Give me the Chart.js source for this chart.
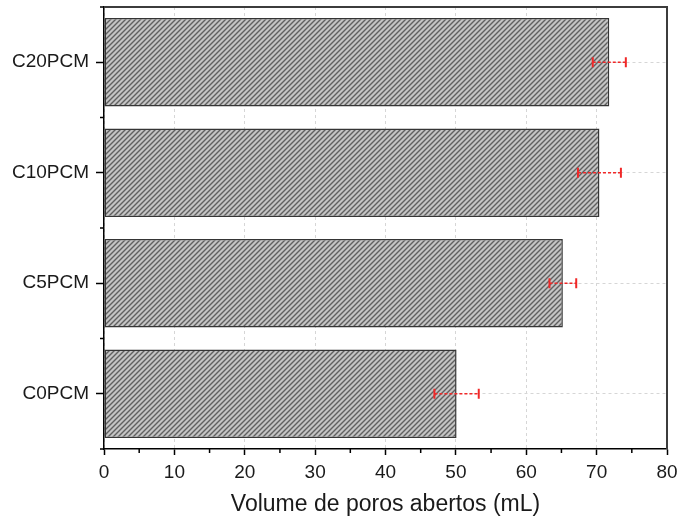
<!DOCTYPE html>
<html>
<head>
<meta charset="utf-8">
<script src="https://cdn.jsdelivr.net/npm/chart.js@4/dist/chart.umd.min.js"></script>
<style>
  html, body { margin: 0; padding: 0; background: #ffffff; }
  #c { display: block; }
</style>
</head>
<body>
<canvas id="c" width="678" height="519"></canvas>
<script>
// ---- data ----
const categories = ['C0PCM', 'C5PCM', 'C10PCM', 'C20PCM'];
const volumes = [50.1, 65.2, 70.4, 71.8];
const errors = [3.15, 1.9, 3.05, 2.35];
const xTicks = [0, 10, 20, 30, 40, 50, 60, 70, 80];
const xTitle = 'Volume de poros abertos (mL)';

// ---- hatch pattern ----
function makeHatch() {
  const s = 5;
  const cv = document.createElement('canvas');
  cv.width = s; cv.height = s;
  const g = cv.getContext('2d');
  g.fillStyle = '#c4c4c4';
  g.fillRect(0, 0, s, s);
  g.strokeStyle = '#606060';
  g.lineWidth = 1.4;
  g.beginPath();
  g.moveTo(-1, 1); g.lineTo(1, -1);
  g.moveTo(0, s); g.lineTo(s, 0);
  g.moveTo(s - 1, s + 1); g.lineTo(s + 1, s - 1);
  g.stroke();
  return g.createPattern(cv, 'repeat');
}
const ctx = document.getElementById('c').getContext('2d');
const hatch = makeHatch();

const extras = {
  id: 'extras',
  afterDraw(chart) {
    const c = chart.ctx;
    const xs = chart.scales.x, ys = chart.scales.y;
    const a = chart.chartArea;
    c.save();
    // frame top & right
    c.strokeStyle = '#3c3c3c';
    c.lineWidth = 2;
    c.beginPath();
    c.moveTo(a.left, a.top);
    c.lineTo(a.right, a.top);
    c.lineTo(a.right, a.bottom);
    c.stroke();
    // minor ticks x
    c.strokeStyle = '#000';
    c.lineWidth = 1.5;
    c.beginPath();
    for (let i = 0; i < xTicks.length - 1; i++) {
      const px = xs.getPixelForValue((xTicks[i] + xTicks[i + 1]) / 2);
      c.moveTo(px, a.bottom);
      c.lineTo(px, a.bottom + 4);
    }
    // minor ticks y (category boundaries)
    for (let i = 0; i <= categories.length; i++) {
      const py = ys.getPixelForValue(i - 0.5);
      c.moveTo(a.left, py);
      c.lineTo(a.left - 4, py);
    }
    c.stroke();
    // error bars
    c.strokeStyle = '#f02828';
    for (let i = 0; i < categories.length; i++) {
      const py = ys.getPixelForValue(i);
      const x1 = xs.getPixelForValue(volumes[i] - errors[i]);
      const x2 = xs.getPixelForValue(volumes[i] + errors[i]);
      c.lineWidth = 1.6;
      c.setLineDash([3, 2]);
      c.beginPath();
      c.moveTo(x1, py); c.lineTo(x2, py);
      c.stroke();
      c.setLineDash([]);
      c.lineWidth = 2;
      c.beginPath();
      c.moveTo(x1, py - 5); c.lineTo(x1, py + 5);
      c.moveTo(x2, py - 5); c.lineTo(x2, py + 5);
      c.stroke();
    }
    c.restore();
  }
};

new Chart(ctx, {
  type: 'bar',
  data: {
    labels: categories,
    datasets: [{
      data: volumes,
      backgroundColor: hatch,
      borderColor: '#353535',
      borderWidth: 1.5,
      borderSkipped: false,
      barPercentage: 0.8,
      categoryPercentage: 1.0
    }]
  },
  options: {
    indexAxis: 'y',
    responsive: false,
    animation: false,
    devicePixelRatio: 1,
    layout: { padding: { top: 7, right: 11, left: 0, bottom: 0 } },
    plugins: { legend: { display: false }, tooltip: { enabled: false } },
    scales: {
      x: {
        type: 'linear',
        min: 0, max: 80,
        z: 1,
        afterBuildTicks: (s) => { s.ticks = xTicks.map(v => ({ value: v })); },
        afterFit: (s) => { s.height = 70; s.paddingLeft = 0; s.paddingRight = 0; },
        grid: {
          color: '#d6d6d6',
          lineWidth: 1,
          drawTicks: true,
          tickLength: 6,
          tickColor: '#000',
          tickWidth: 1.5,
          tickBorderDash: []
        },
        border: { display: true, color: '#000', width: 1.5, dash: [3, 3] },
        ticks: {
          color: '#1a1a1a',
          font: { family: 'Liberation Sans, Arial', size: 19 },
          padding: 6,
          maxRotation: 0
        },
        title: {
          display: true,
          text: xTitle,
          color: '#1a1a1a',
          font: { family: 'Liberation Sans, Arial', size: 23 },
          padding: { top: 0, bottom: 1 }
        }
      },
      y: {
        type: 'category',
        reverse: true,
        offset: true,
        z: 1,
        afterFit: (s) => { s.width = 104; s.paddingTop = 0; s.paddingBottom = 0; },
        grid: {
          offset: false,
          color: '#d6d6d6',
          lineWidth: 1,
          drawTicks: true,
          tickLength: 8,
          tickColor: '#000',
          tickWidth: 1.5,
          tickBorderDash: []
        },
        border: { display: true, color: '#000', width: 1.5, dash: [3, 3] },
        ticks: {
          color: '#1a1a1a',
          font: { family: 'Liberation Sans, Arial', size: 19 },
          padding: 7
        }
      }
    }
  },
  plugins: [extras]
});
</script>
</body>
</html>
